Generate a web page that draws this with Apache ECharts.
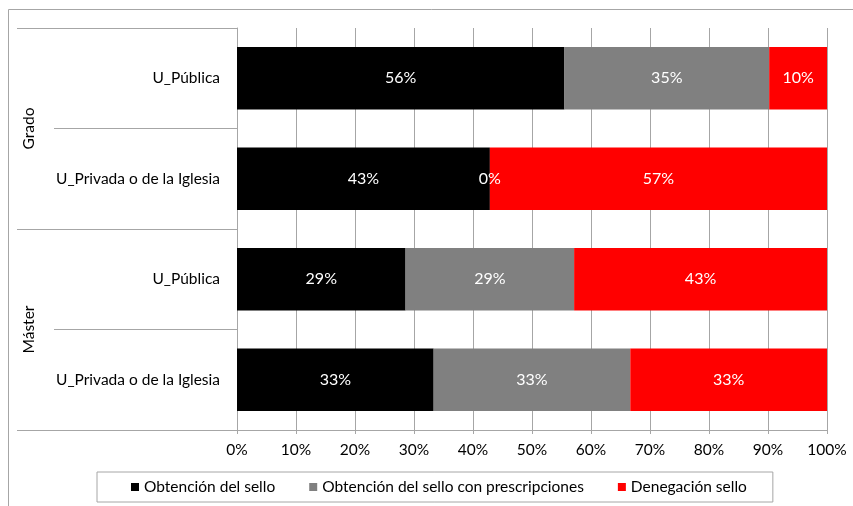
<!DOCTYPE html>
<html>
<head>
<meta charset="utf-8">
<script src="https://cdn.jsdelivr.net/npm/echarts@6/dist/echarts.min.js"></script>
<style>
html,body{margin:0;padding:0;background:#fff;}
#c{width:853px;height:506px;}
</style>
</head>
<body>
<div id="c"></div>
<script>
// Categories (top to bottom)
const categories = ['U_Pública', 'U_Privada o de la Iglesia', 'U_Pública', 'U_Privada o de la Iglesia'];
const groups = ['Grado', 'Máster'];
const seriesNames = ['Obtención del sello', 'Obtención del sello con prescripciones', 'Denegación sello'];
// Values in percent
const obtencion = [55.5, 42.86, 28.57, 33.33];
const prescripciones = [34.7, 0, 28.57, 33.33];
const denegacion = [9.8, 57.14, 42.86, 33.34];
const xTicks = [0, 10, 20, 30, 40, 50, 60, 70, 80, 90, 100];

const colors = ['#000000', '#808080', '#ff0000'];
const FONT = 'Lato, "Open Sans", sans-serif';
const FS = 15.5;
const gridColor = '#a6a6a6';

const chart = echarts.init(document.getElementById('c'), null, {renderer: 'canvas'});

function mkSeries(name, data, color) {
  return {
    name: name,
    type: 'bar',
    stack: 'total',
    data: data,
    barWidth: '62%',
    itemStyle: {color: color},
    label: {
      show: true,
      position: 'inside',
      color: '#ffffff',
      fontFamily: FONT,
      fontSize: 16,
      formatter: p => Math.round(p.value) + '%'
    },
    emphasis: {disabled: true}
  };
}

chart.setOption({
  animation: false,
  backgroundColor: '#ffffff',
  textStyle: {fontFamily: FONT},
  grid: {left: 237, right: 26, top: 28, bottom: 76, containLabel: false},
  xAxis: {
    type: 'value',
    min: xTicks[0],
    max: xTicks[xTicks.length - 1],
    interval: 10,
    axisLine: {show: true, lineStyle: {color: gridColor, width: 1}},
    axisTick: {show: true, length: 4, lineStyle: {color: gridColor}},
    splitLine: {show: true, lineStyle: {color: gridColor, width: 1}},
    axisLabel: {color: '#000', fontSize: FS, fontFamily: FONT, margin: 12, formatter: '{value}%'}
  },
  yAxis: [
    {
      type: 'category',
      data: categories,
      inverse: true,
      axisLine: {show: true, lineStyle: {color: gridColor}},
      axisTick: {show: true, length: 183, lineStyle: {color: gridColor}},
      axisLabel: {color: '#000', fontSize: FS, fontFamily: FONT, margin: 17}
    },
    {
      type: 'category',
      data: groups,
      inverse: true,
      position: 'left',
      axisLine: {show: false},
      axisTick: {show: true, length: 220, lineStyle: {color: gridColor}},
      axisLabel: {color: '#000', fontSize: FS, fontFamily: FONT, margin: 200, rotate: 90}
    }
  ],
  legend: {
    show: true,
    left: 97,
    top: 472,
    itemWidth: 8,
    itemHeight: 8,
    itemGap: 34,
    icon: 'rect',
    borderColor: '#a6a6a6',
    borderWidth: 1,
    padding: [7, 26, 7, 34],
    textStyle: {color: '#000', fontSize: FS, fontFamily: FONT},
    data: seriesNames
  },
  graphic: [{
    type: 'rect',
    shape: {x: 8.5, y: 9.5, width: 860, height: 520},
    style: {fill: 'none', stroke: '#a6a6a6', lineWidth: 1},
    silent: true,
    z: -10
  }],
  series: [
    mkSeries(seriesNames[0], obtencion, colors[0]),
    mkSeries(seriesNames[1], prescripciones, colors[1]),
    mkSeries(seriesNames[2], denegacion, colors[2])
  ]
});
</script>
</body>
</html>
